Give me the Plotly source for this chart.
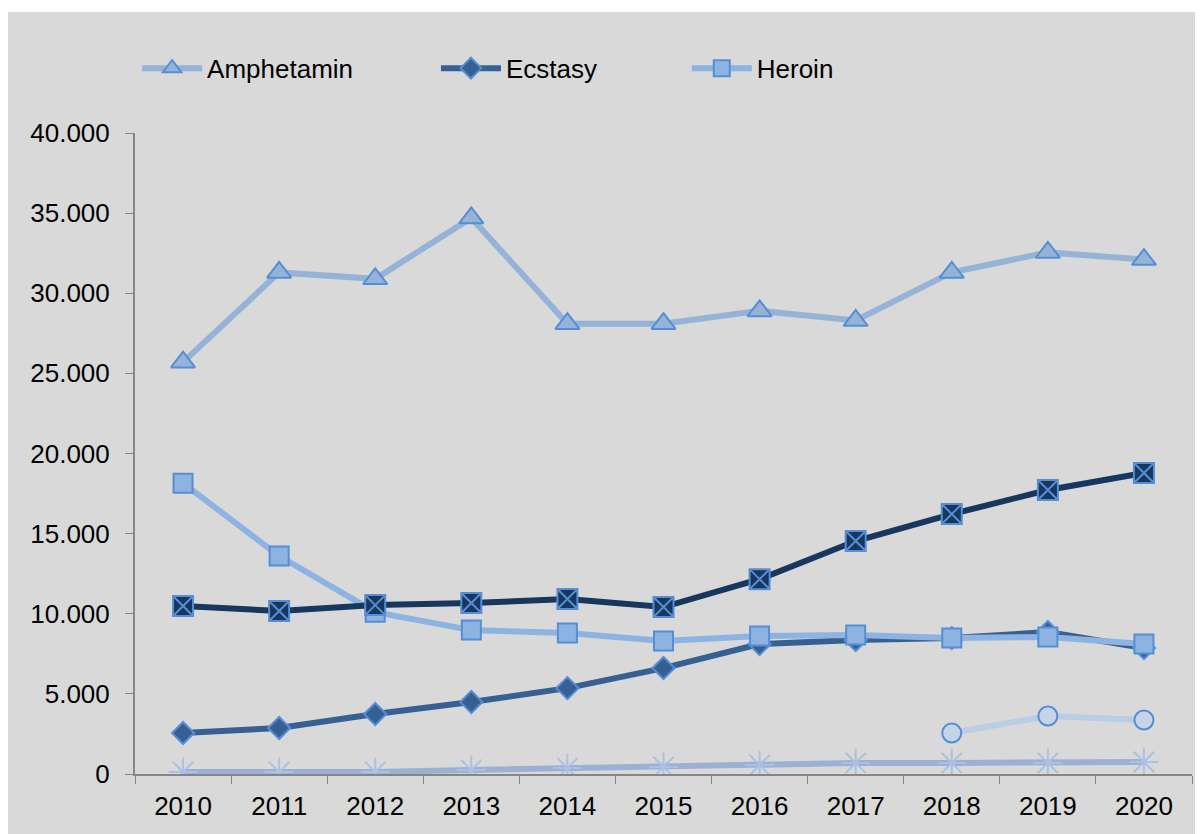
import plotly.graph_objects as go

years = ["2010", "2011", "2012", "2013", "2014", "2015", "2016", "2017", "2018", "2019", "2020"]

amphetamin = [25700, 31300, 30900, 34700, 28100, 28100, 28900, 28300, 31300, 32550, 32100]
ecstasy = [2560, 2870, 3740, 4490, 5360, 6610, 8110, 8360, 8480, 8860, 7860]
heroin = [18150, 13600, 10100, 8980, 8800, 8300, 8610, 8670, 8480, 8550, 8110]
kokain = [10480, 10170, 10540, 10670, 10920, 10420, 12160, 14540, 16220, 17720, 18780]
crystal = [None, None, None, None, None, None, None, None, 2560, 3620, 3370]
lsd = [120, 120, 120, 250, 370, 440, 560, 690, 690, 690, 750]

FONT = "Liberation Sans, Arial, sans-serif"
EDGE = "#558ed5"
AXIS = "#868686"

fig = go.Figure()


def add_series(name, values, line_color, symbol, size, fill, edge=EDGE,
               legend=None, width=6, edge_width=2):
    fig.add_trace(go.Scatter(
        x=years, y=values, name=name, mode="lines+markers",
        line={"color": line_color, "width": width},
        marker={"symbol": symbol, "size": size, "color": fill,
                "line": {"color": edge, "width": edge_width}},
        showlegend=legend is not None,
        legend=legend or "legend",
        connectgaps=False,
    ))


add_series("Amphetamin", amphetamin, "#95b3d7", "triangle-up", 21, "#95b3d7", legend="legend")
add_series("Ecstasy", ecstasy, "#376092", "diamond", 17, "#376092", legend="legend2")
add_series("Heroin", heroin, "#8db3e2", "square", 19, "#8db3e2", legend="legend3")
add_series("Kokain", kokain, "#17375e", "square-x", 20, "#17375e")
add_series("Crystal", crystal, "#b9cde5", "circle", 19, "#c6d4e8")
add_series("LSD", lsd, "#9cb0d4", "asterisk-open", 24, "#a9c1e3", edge="#a9c1e3",
           edge_width=2)

# grey chart area (white strip at top and left)
fig.add_shape(type="rect", xref="paper", yref="paper", layer="below",
              x0=-0.1211, x1=1.03, y0=-0.12, y1=1.1888,
              fillcolor="#d9d9d9", line={"width": 0})

legend_common = {
    "orientation": "h", "yanchor": "middle", "y": 1.101, "xanchor": "left",
    "font": {"size": 26, "family": FONT, "color": "#000000"},
    "bgcolor": "rgba(0,0,0,0)", "itemwidth": 60,
}

fig.update_layout(
    width=1203, height=834,
    margin={"l": 127, "r": 19, "t": 125, "b": 68},
    paper_bgcolor="#ffffff",
    plot_bgcolor="rgba(0,0,0,0)",
    separators=",.",
    font={"family": FONT, "size": 26, "color": "#000000"},
    legend={**legend_common, "x": 0.002},
    legend2={**legend_common, "x": 0.2847},
    legend3={**legend_common, "x": 0.522},
)
fig.update_xaxes(
    type="category", tickson="boundaries", ticks="outside", ticklen=8,
    tickcolor=AXIS, showline=True, linecolor=AXIS, linewidth=2,
    showgrid=False, zeroline=False, range=[-0.5, 10.5], ticklabelstandoff=8,
    tickfont={"size": 26, "family": FONT},
)
fig.update_yaxes(
    range=[0, 40000], dtick=5000, tickformat=",d", ticks="outside", ticklen=8,
    tickcolor=AXIS, showline=True, linecolor=AXIS, linewidth=2,
    showgrid=False, zeroline=False, ticklabelstandoff=10,
    tickfont={"size": 26, "family": FONT},
)

fig.write_html("out.html")
